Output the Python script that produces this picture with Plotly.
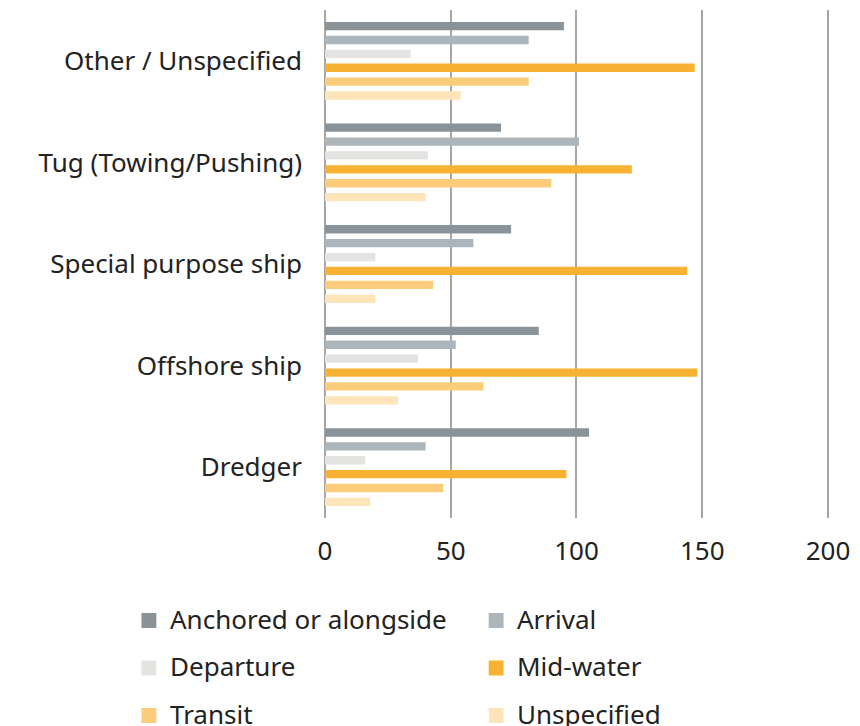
import plotly.graph_objects as go

categories = ["Other / Unspecified", "Tug (Towing/Pushing)", "Special purpose ship", "Offshore ship", "Dredger"]
series_names = ["Anchored or alongside", "Arrival", "Departure", "Mid-water", "Transit", "Unspecified"]
anchored = [95, 70, 74, 85, 105]
arrival = [81, 101, 59, 52, 40]
departure = [34, 41, 20, 37, 16]
mid_water = [147, 122, 144, 148, 96]
transit = [81, 90, 43, 63, 47]
unspecified = [54, 40, 20, 29, 18]
x_ticks = [0, 50, 100, 150, 200]

series_values = [anchored, arrival, departure, mid_water, transit, unspecified]
colors = ["#8a9399", "#adb5bc", "#e3e3e2", "#f7b233", "#fbcd7a", "#fde5b9"]

FONT = "Noto Sans"
TXT = "#222222"
FS = 26

fig = go.Figure()
for name, vals, col in zip(series_names, series_values, colors):
    fig.add_trace(go.Bar(y=categories, x=vals, name=name, orientation="h",
                         marker=dict(color=col, line=dict(width=0)), showlegend=False))

# plot area geometry (pixels) for manual legend placement
L, R, T, B = 325, 26, 10, 208
W, H = 860, 726
pw, ph = W - L - R, H - T - B
def px(x):
    return (x - L) / pw
def py(y):
    return (H - B - y) / ph

shapes = []
annotations = []
col_x = [140, 490]
row_y = [620.5, 668, 715.5]
for i, (name, col) in enumerate(zip(series_names, colors)):
    cx = col_x[i % 2]
    cy = row_y[i // 2]
    shapes.append(dict(type="rect", xref="paper", yref="paper",
                       x0=px(cx), x1=px(cx + 15), y0=py(cy - 7.5), y1=py(cy + 7.5),
                       fillcolor=col, line=dict(width=0)))
    annotations.append(dict(xref="paper", yref="paper", x=px(cx + 27), y=py(cy - 2),
                            text=name, showarrow=False, xanchor="left", yanchor="middle",
                            font=dict(family=FONT, size=FS, color=TXT)))

fig.update_layout(
    width=W, height=H,
    margin=dict(l=L, r=R, t=T, b=B),
    paper_bgcolor="white", plot_bgcolor="white",
    barmode="group", bargap=0.18, bargroupgap=0.4,
    font=dict(family=FONT, size=FS, color=TXT),
    shapes=shapes, annotations=annotations,
    xaxis=dict(range=[0, 200.8], tickvals=x_ticks, showgrid=True, gridcolor="#a6a6a6",
               gridwidth=1.5, zeroline=True, zerolinecolor="#a6a6a6", zerolinewidth=1.5,
               showline=False, ticks="", ticklabelstandoff=15,
               tickfont=dict(family=FONT, size=FS, color=TXT)),
    yaxis=dict(autorange="reversed", showgrid=False, showline=False, ticks="",
               ticklabelstandoff=22, tickfont=dict(family=FONT, size=FS, color=TXT)),
)

fig.write_html("out.html", config={"displayModeBar": False},
               post_script="document.body.style.margin='0';")
